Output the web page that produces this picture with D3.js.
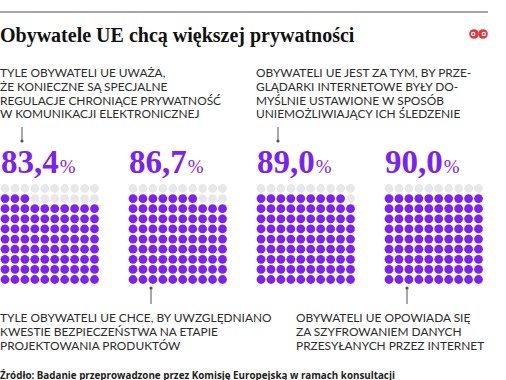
<!DOCTYPE html>
<html><head><meta charset="utf-8">
<script src="https://cdn.jsdelivr.net/npm/d3@7"></script>
<style>
html,body{margin:0;padding:0;background:#fff;overflow:hidden}
</style></head>
<body>
<script>
// ---- data ----
const title = "Obywatele UE chcą większej prywatności";
const values = [83.4, 86.7, 89.0, 90.0];
const valueLabels = ["83,4", "86,7", "89,0", "90,0"];
const topLabels = [
  ["TYLE OBYWATELI UE UWAŻA,", "ŻE KONIECZNE SĄ SPECJALNE", "REGULACJE CHRONIĄCE PRYWATNOŚĆ", "W KOMUNIKACJI ELEKTRONICZNEJ"],
  null,
  ["OBYWATELI UE JEST ZA TYM, BY PRZE-", "GLĄDARKI INTERNETOWE BYŁY DO-", "MYŚLNIE USTAWIONE W SPOSÓB", "UNIEMOŻLIWIAJĄCY ICH ŚLEDZENIE"],
  null
];
const bottomLabels = [
  null,
  ["TYLE OBYWATELI UE CHCE, BY UWZGLĘDNIANO", "KWESTIE BEZPIECZEŃSTWA NA ETAPIE", "PROJEKTOWANIA PRODUKTÓW"],
  null,
  ["OBYWATELI UE OPOWIADA SIĘ", "ZA SZYFROWANIEM DANYCH", "PRZESYŁANYCH PRZEZ INTERNET"]
];
const source = "Źródło: Badanie przeprowadzone przez Komisję Europejską w ramach konsultacji";
const gridN = 10;

const W = 506, H = 380;
const purple = "#7b22f0", grey = "#e8e8e8", ink = "#2b2b2b";

const svg = d3.select("body").append("svg").attr("width", W).attr("height", H);

// header
svg.append("line").attr("x1", 0).attr("x2", 488).attr("y1", 12).attr("y2", 12)
  .attr("stroke", "#8a8a8a").attr("stroke-width", 1.5);
svg.append("text").attr("x", 0).attr("y", 41.5).text(title)
  .attr("font-family", "Liberation Serif").attr("font-weight", "bold")
  .attr("font-size", 20).attr("fill", "#111");
// logo
[474, 483].forEach((cx, i) => {
  svg.append("circle").attr("cx", cx).attr("cy", 34).attr("r", 4.8).attr("fill", "#e0383d");
  svg.append("circle").attr("cx", cx + (i ? 0.8 : -0.8)).attr("cy", 34).attr("r", 2.2).attr("fill", "#fff");
  svg.append("circle").attr("cx", cx + (i ? 0.8 : -0.8)).attr("cy", 34).attr("r", 1.1).attr("fill", "#e0383d");
});

// scales
const panelX = d3.scalePoint().domain(d3.range(values.length)).range([5, 389]);
const colX = d3.scaleLinear().domain([0, gridN - 1]).range([0, 89.5]);
const rowY = d3.scaleLinear().domain([0, gridN - 1]).range([188.5, 279.5]);

const labelFont = "Lato";
function block(x, y, lines) {
  const t = svg.append("text").attr("font-family", labelFont).attr("font-size", 11.9)
    .attr("fill", ink);
  lines.forEach((l, i) => t.append("tspan").attr("x", x).attr("y", y + i * 13.8).text(l));
}

values.forEach((v, p) => {
  const x0 = panelX(p);
  const filled = Math.round(v);
  const rowsFull = Math.floor(filled / gridN), rem = filled % gridN;
  const cells = d3.range(gridN * gridN).map(k => {
    const r = Math.floor(k / gridN), c = k % gridN;
    // fill from bottom; the partial row fills from the left
    const rb = gridN - 1 - r;
    const on = rb < rowsFull || (rb === rowsFull && c < rem);
    return {r, c, on};
  });
  svg.append("g").selectAll("circle").data(cells).join("circle")
    .attr("cx", d => x0 + colX(d.c)).attr("cy", d => rowY(d.r)).attr("r", 4.4)
    .attr("fill", d => d.on ? purple : grey);

  // big number
  const t = svg.append("text").attr("x", x0 - 4).attr("y", 173)
    .attr("font-family", "Liberation Serif").attr("font-weight", "bold")
    .attr("fill", purple);
  t.append("tspan").attr("font-size", 33).text(valueLabels[p]);
  t.append("tspan").attr("font-size", 19).attr("font-weight", "normal").attr("dx", 1).text("%");
});

// top labels with pointer ticks
topLabels.forEach((lines, p) => {
  if (!lines) return;
  const x0 = panelX(p);
  const bx = p === 0 ? 0 : x0 - 5;
  block(bx, 77, lines);
  const tx = x0 + 17;
  svg.append("line").attr("x1", tx).attr("x2", tx).attr("y1", 127).attr("y2", 140)
    .attr("stroke", "#555").attr("stroke-width", 1);
  svg.append("circle").attr("cx", tx).attr("cy", 141).attr("r", 1.6).attr("fill", "#555");
});
bottomLabels.forEach((lines, p) => {
  if (!lines) return;
  const x0 = panelX(p);
  const bx = p === 1 ? 0 : x0 - 93;
  block(bx, 322, lines);
  const tx = x0 + 18;
  svg.append("circle").attr("cx", tx).attr("cy", 288).attr("r", 1.6).attr("fill", "#555");
  svg.append("line").attr("x1", tx).attr("x2", tx).attr("y1", 289).attr("y2", 304)
    .attr("stroke", "#555").attr("stroke-width", 1);
});

// source
svg.append("text").attr("x", 0).attr("y", 378.5).text(source)
  .attr("font-family", "Open Sans").attr("font-weight", "bold")
  .attr("font-size", 9.8).attr("fill", "#222");
</script>
</body></html>
